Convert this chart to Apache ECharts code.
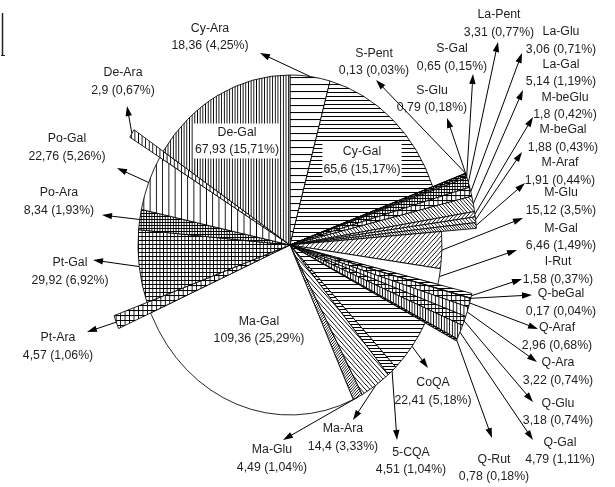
<!DOCTYPE html>
<html>
<head>
<meta charset="utf-8">
<script src="https://cdn.jsdelivr.net/npm/echarts@6.0.0/dist/echarts.min.js"></script>
<style>
html, body { margin: 0; padding: 0; background: #fff; }
#chart { width: 615px; height: 487px; }
</style>
</head>
<body>
<div id="chart"></div>
<script>
// Slices, clockwise from twelve o'clock
const names = ['Cy-Ara', 'Cy-Gal', 'S-Pent', 'S-Glu', 'S-Gal', 'La-Pent', 'La-Glu', 'La-Gal',
  'M-beGlu', 'M-beGal', 'M-Araf', 'M-Glu', 'M-Gal', 'I-Rut', 'Q-beGal', 'Q-Araf', 'Q-Ara',
  'Q-Glu', 'Q-Gal', 'Q-Rut', 'CoQA', '5-CQA', 'Ma-Ara', 'Ma-Glu', 'Ma-Gal', 'Pt-Ara',
  'Pt-Gal', 'Po-Ara', 'Po-Gal', 'De-Ara', 'De-Gal'];
const values = [18.36, 65.6, 0.13, 0.79, 0.65, 3.31, 3.06, 5.14,
  1.8, 1.88, 1.91, 15.12, 6.46, 1.58, 0.17, 2.96, 3.22,
  3.18, 4.79, 0.78, 22.41, 4.51, 14.4, 4.49, 109.36, 4.57,
  29.92, 8.34, 22.76, 2.9, 67.93];

// Outer radius of each slice, relative to the pie radius (minor slices stick out)
const reach = [1, 1, 1.23, 1.23, 1.23, 1.23, 1.23, 1.23,
  1.23, 1.23, 1.23, 1, 1, 1.23, 1.23, 1.23, 1.23,
  1.23, 1.23, 1.23, 1, 1, 1, 1, 1, 1.23,
  1, 1, 1, 1.23, 1];

// Hatch fill per slice: [kind, spacing]; null = plain white
const hatches = [['h', 7], ['h', 4], ['g', 2], ['g', 2], ['g', 3], ['g', 3], ['g', 5], ['d2', 4],
  ['d1', 4], ['d2', 4], ['d2', 3], ['d1', 5], null, ['h', 3], ['g', 3], ['g', 5], ['v', 4],
  ['g', 4], ['v', 3], ['g', 2], ['h', 4], ['h', 3], ['d2', 5], ['d1', 3], null, ['g', 5],
  ['g', 4], ['g', 3], ['v', 7], ['v', 4], ['v', 3]];

// Label block centres and arrow tips (null tip = label sits inside its slice)
const labelAt = [[210, 37], [362, 160.5], [374, 62], [432, 99], [452, 57.5], [499, 23.5], [561, 40.5], [561, 73],
  [565, 106], [563, 138.5], [560, 171.5], [561, 201.5], [561, 237], [558, 270.5], [561, 302.5], [557, 336.5], [558, 371.5],
  [558, 412], [560, 451], [494, 468], [433, 391.5], [411, 461], [343, 437.5], [272, 458.5], [259, 330], [58, 346.5],
  [70, 271.5], [59, 201.5], [67, 147.5], [123, 81.5], [237, 141]];
const arrowTo = [[260, 53], null, [376, 80], [447, 118], [473, 74], [498, 42], [522, 53], [523, 90],
  [533, 117], [522, 152], [525, 183], [523, 218], [517, 250], [522, 279], [532, 295], [538, 329], [537, 362],
  [533, 402], [533, 440], [492, 438], [428, 368], [397, 440], [353, 420], [283, 440], null, [87, 332],
  [93, 260], [102, 215], [117, 168], [127, 106], null];

const SQUASH = 152 / 170;   // horizontal / vertical radius of the elliptical pie
const FONT = '12.3px "Liberation Sans", Arial, sans-serif';

const total = values.reduce((a, b) => a + b, 0);
const bounds = [];
let acc = 0;
values.forEach(v => { bounds.push([acc, acc + v]); acc += v; });

const fmt = n => String(n).replace('.', ',');
const pct = v => fmt(Math.round(v / total * 10000) / 100);

function hatchFill(spec) {
  if (!spec) return '#fff';
  const kind = spec[0], s = spec[1];
  const c = document.createElement('canvas');
  c.width = s; c.height = s;
  const g = c.getContext('2d');
  g.fillStyle = '#fff';
  g.fillRect(0, 0, s, s);
  g.strokeStyle = '#000';
  g.lineWidth = 1;
  g.beginPath();
  if (kind === 'h' || kind === 'g') { g.moveTo(0, 0.5); g.lineTo(s, 0.5); }
  if (kind === 'v' || kind === 'g') { g.moveTo(0.5, 0); g.lineTo(0.5, s); }
  for (let k = -1; k <= 1; k++) {
    if (kind === 'd1') { g.moveTo(k * s, s); g.lineTo(k * s + s, 0); }
    if (kind === 'd2') { g.moveTo(k * s, 0); g.lineTo(k * s + s, s); }
  }
  g.stroke();
  return { image: c, repeat: 'repeat' };
}
const fills = hatches.map(hatchFill);

function renderItem(params, api) {
  const i = params.dataIndex;
  const cs = params.coordSys;
  const cx = cs.cx, cy = cs.cy;
  const k = reach[i];
  const v0 = api.value(0), v1 = api.value(1);
  const p0 = api.coord([k, v0]);
  const p1 = api.coord([k, v1]);
  const r = Math.hypot(p0[0] - cx, p0[1] - cy);
  const sa = Math.atan2(p0[1] - cy, p0[0] - cx);
  const ea = Math.atan2(p1[1] - cy, p1[0] - cx);
  const children = [{
    type: 'sector',
    shape: { cx: cx, cy: cy, r0: 0, r: r, startAngle: sa, endAngle: ea, clockwise: true },
    scaleX: SQUASH, scaleY: 1, originX: cx, originY: cy,
    style: { fill: fills[i], stroke: '#000', lineWidth: 0.9, strokeNoScale: true },
    z2: 1
  }];

  const text = names[i] + '\n' + fmt(values[i]) + ' (' + pct(values[i]) + '%)';
  const inside = !arrowTo[i];
  children.push({
    type: 'text',
    x: labelAt[i][0], y: labelAt[i][1],
    style: Object.assign({
      text: text, align: 'center', verticalAlign: 'middle',
      font: FONT, lineHeight: 17.5, fill: '#1e1e1e'
    }, inside ? { backgroundColor: '#fff', padding: [0, 1] } : {}),
    z2: 100
  });

  if (!inside) {
    const pm = api.coord([k, (v0 + v1) / 2]);
    const tx = cx + (pm[0] - cx) * SQUASH, ty = pm[1];
    const hx = arrowTo[i][0], hy = arrowTo[i][1];
    const len = Math.hypot(hx - tx, hy - ty);
    const ux = (hx - tx) / len, uy = (hy - ty) / len;
    const bx = hx - ux * 10, by = hy - uy * 10;
    children.push({
      type: 'line',
      shape: { x1: tx, y1: ty, x2: bx + ux * 2, y2: by + uy * 2 },
      style: { stroke: '#000', lineWidth: 1 },
      z2: 90
    });
    children.push({
      type: 'polygon',
      shape: { points: [[hx, hy], [bx - uy * 3.2, by + ux * 3.2], [bx + uy * 3.2, by - ux * 3.2]] },
      style: { fill: '#000' },
      z2: 90
    });
  }
  return { type: 'group', children: children };
}

const chart = echarts.init(document.getElementById('chart'), null, { renderer: 'canvas' });
chart.setOption({
  animation: false,
  backgroundColor: '#fff',
  polar: { center: [290, 245], radius: 170 * 1.25 },
  angleAxis: { type: 'value', min: 0, max: total, startAngle: 90, clockwise: true, show: false },
  radiusAxis: { type: 'value', min: 0, max: 1.25, show: false },
  graphic: [
    { type: 'line', shape: { x1: 2.5, y1: 13, x2: 2.5, y2: 56 }, style: { stroke: '#222', lineWidth: 1.5 } },
    { type: 'line', shape: { x1: 1, y1: 55.5, x2: 5, y2: 55.5 }, style: { stroke: '#222', lineWidth: 1 } }
  ],
  series: [{
    type: 'custom',
    coordinateSystem: 'polar',
    data: bounds.map((b, i) => ({ name: names[i], value: [b[0], b[1]] })),
    renderItem: renderItem
  }]
});
</script>
</body>
</html>
